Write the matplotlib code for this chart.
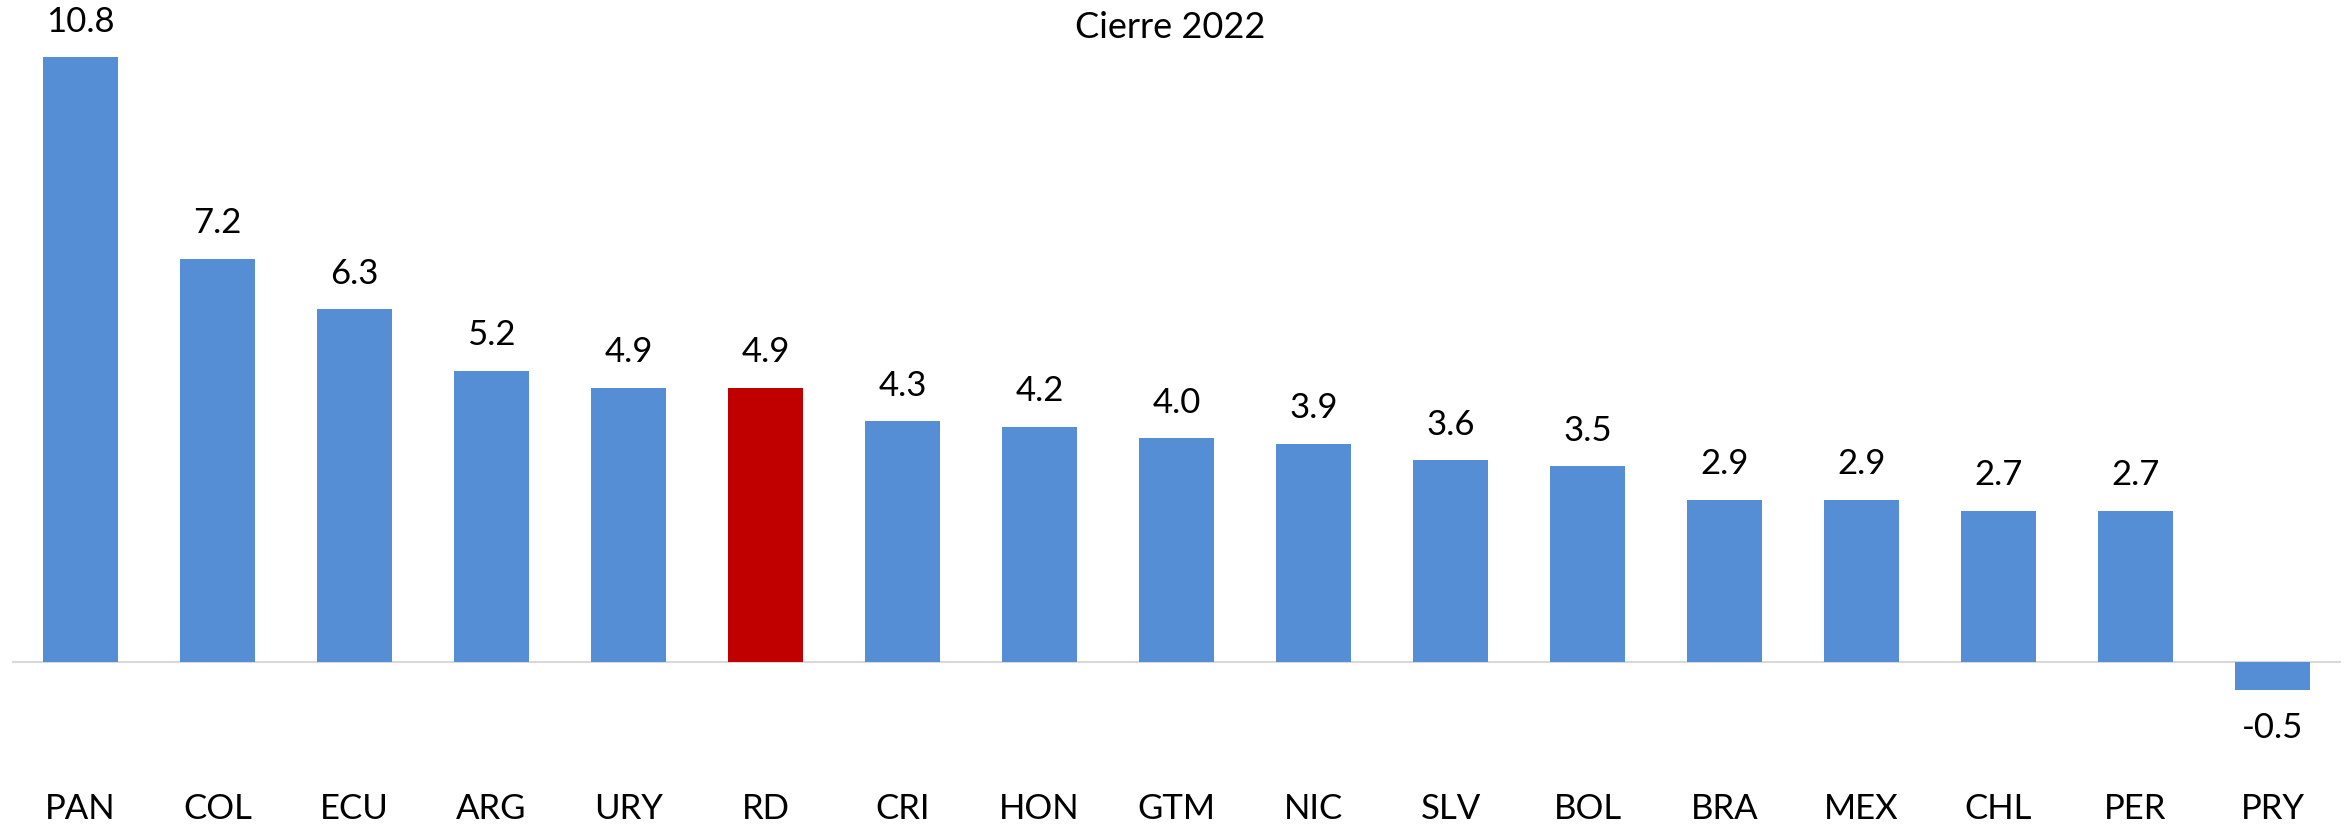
import matplotlib.pyplot as plt

paises = ['PAN', 'COL', 'ECU', 'ARG', 'URY', 'RD', 'CRI', 'HON', 'GTM',
          'NIC', 'SLV', 'BOL', 'BRA', 'MEX', 'CHL', 'PER', 'PRY']
valores = [10.8, 7.2, 6.3, 5.2, 4.9, 4.9, 4.3, 4.2, 4.0,
           3.9, 3.6, 3.5, 2.9, 2.9, 2.7, 2.7, -0.5]
resaltado = 'RD'

plt.rcParams['font.family'] = ['Lato', 'DejaVu Sans']

W, H = 2351, 826
fig = plt.figure(figsize=(W / 100, H / 100), dpi=100)
# axes placed in pixel coords: x 12..2341, y 20..740 (top-down)
ax = fig.add_axes([12 / W, (H - 740) / H, (2341 - 12) / W, 720 / H])

colores = ['#C00000' if p == resaltado else '#558ED5' for p in paises]
x = range(len(paises))
ax.bar(x, valores, width=0.55, color=colores, zorder=2)

for i, v in enumerate(valores):
    off = 14 if v >= 0 else -16
    ax.annotate(f'{v:.1f}', (i, v), xytext=(0, off), textcoords='offset points',
                ha='center', va='bottom' if v >= 0 else 'top', fontsize=25)

ax.axhline(0, color='#D9D9D9', linewidth=1.5, zorder=1)
ax.set_xlim(-0.5, len(paises) - 0.5)
ax.set_ylim(-(740 - 662) / 56, (662 - 20) / 56)

ax.set_xticks(list(x))
ax.set_xticklabels(paises, fontsize=25)
ax.tick_params(axis='x', length=0, pad=38)
ax.set_yticks([])
for s in ax.spines.values():
    s.set_visible(False)

fig.text(1170 / W, 1 - 27 / H, 'Cierre 2022', ha='center', va='center', fontsize=26)

plt.savefig('out.png', dpi=100)
